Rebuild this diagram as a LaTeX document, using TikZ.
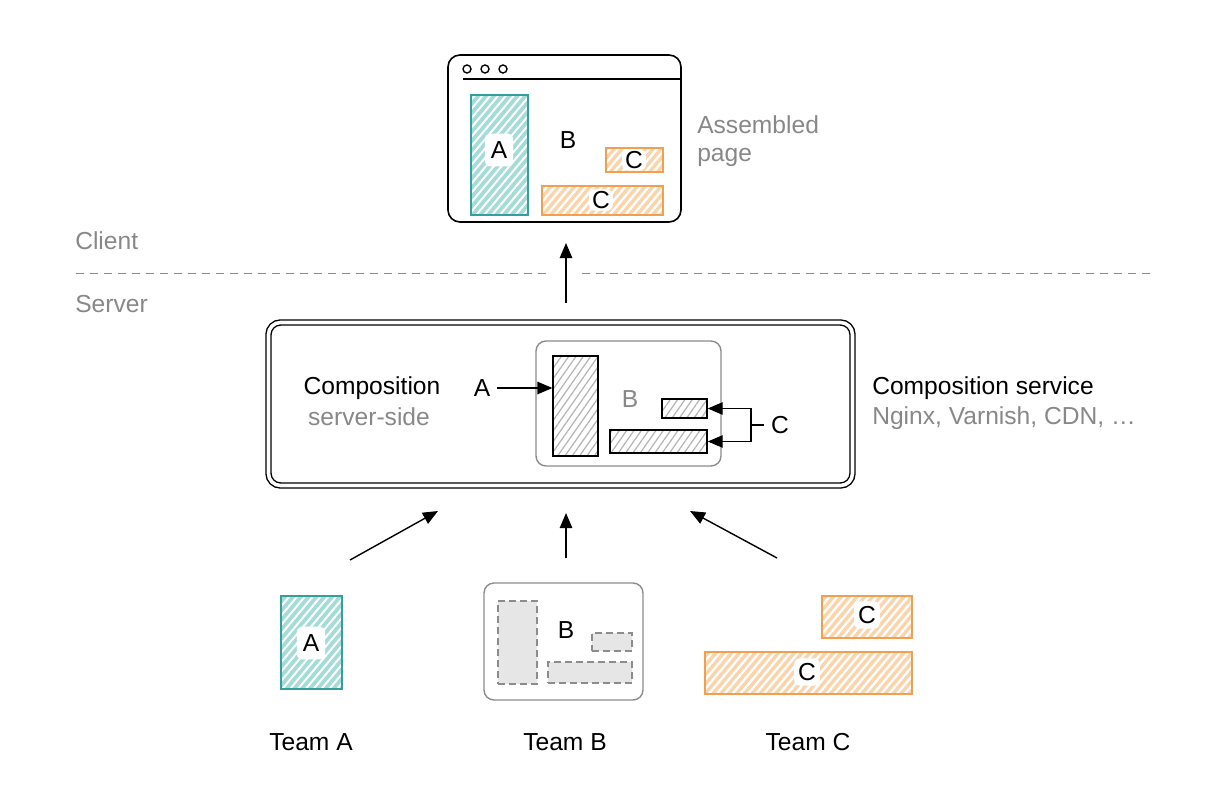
\documentclass[tikz,border=0pt]{standalone}
\usepackage{fontspec}
\setmainfont{Liberation Sans}
\usepackage{xcolor}
\usetikzlibrary{arrows.meta,patterns.meta}
\definecolor{tealline}{RGB}{52,160,155}
\definecolor{tealfill}{RGB}{165,220,216}
\definecolor{orline}{RGB}{240,160,80}
\definecolor{orfill}{RGB}{250,212,170}
\definecolor{greytext}{RGB}{136,136,136}
\definecolor{greyline}{RGB}{140,140,140}
\definecolor{hatchgrey}{RGB}{180,180,180}
\definecolor{dashfill}{RGB}{230,230,230}

\begin{document}
\begin{tikzpicture}[x=0.5pt, y=-0.5pt, font=\fontsize{12.3}{14}\selectfont,
  >={Triangle[length=7.5pt,width=6.2pt]}, line width=0.6pt,
  box/.style={draw, rectangle, inner sep=0pt, line width=0.7pt},
  tealbox/.style={box, draw=tealline, preaction={fill=tealfill}, pattern={Lines[angle=50,distance=3pt,line width=1pt]}, pattern color=white},
  orangebox/.style={box, draw=orline, preaction={fill=orfill}, pattern={Lines[angle=50,distance=3pt,line width=1.2pt]}, pattern color=white},
  greybox/.style={box, draw=black, preaction={fill=white}, pattern={Lines[angle=55,distance=3pt,line width=0.6pt]}, pattern color=hatchgrey},
  dashbox/.style={box, draw=greyline, dash pattern=on 3.5pt off 2pt, fill=dashfill},
  tag/.style={fill=white, rounded corners=3pt, inner xsep=3pt, inner ysep=4pt},
  grey text/.style={text=greytext},
  arr/.style={->, line width=0.7pt}]
\useasboundingbox (0,0) rectangle (1208,792);

\node[box, rounded corners=6pt, line width=0.8pt, minimum width=116.5pt, minimum height=83.5pt] (win) at (564.5,138.5) {};
\draw[line width=0.8pt] (463,79) -- (681,79);
\foreach \x in {467,485,503} \draw[line width=0.7pt] (\x,69) circle[radius=2pt];
\node[tealbox, minimum width=28.5pt, minimum height=60pt] (wa) at (499.5,155) {};
\node[tag] (wal) at (499,150) {A};
\node (wb) at (568,140) {B};
\node[orangebox, minimum width=28.5pt, minimum height=12pt] (wc1) at (634.5,160) {};
\node[tag, inner ysep=1pt, inner xsep=1.5pt] (wc1l) at (634,160) {C};
\node[orangebox, minimum width=60.5pt, minimum height=14.5pt] (wc2) at (602.5,200.5) {};
\node[tag, inner ysep=1pt, inner xsep=1.5pt] (wc2l) at (601,200) {C};
\node[grey text, align=left, anchor=west] (asm) at (690,141) {Assembled\\page};

\node[grey text, anchor=west] (cl) at (68,241) {Client};
\node[grey text, anchor=west] (sv) at (68,304) {Server};
\draw[greyline, line width=0.5pt, dash pattern=on 4pt off 3pt] (76,273) -- (548,273) (582,273) -- (1155,273);

\node[box, double, double distance=1.8pt, line width=0.7pt, rounded corners=6pt, minimum width=292pt, minimum height=81.5pt] (comp) at (560.5,404) {};
\node[box, draw=greyline, rounded corners=5pt, minimum width=92.5pt, minimum height=62.5pt] (inner) at (628.5,403.5) {};
\node[greybox, minimum width=22.5pt, minimum height=50pt] (pa) at (575.5,406) {};
\node[greybox, minimum width=22.5pt, minimum height=9.5pt] (pc1) at (684.5,408.5) {};
\node[greybox, minimum width=48.5pt, minimum height=11.5pt] (pc2) at (658.5,441.5) {};
\node[grey text] (pb) at (630,399) {B};
\node (la) at (482,388) {A};
\node (lc) at (780,425) {C};
\coordinate (cj) at (751,425);
\node (ctitle) at (372,388) {Composition};
\node[grey text] (csub) at (369,417) {server-side};
\node[anchor=west] (svc) at (865,388) {Composition service};
\node[grey text, anchor=west] (svcsub) at (865,418) {Nginx, Varnish, CDN, …};
\draw[arr] (la) -- (la -| pa.west);
\draw[line width=0.7pt] (lc) -- (cj);
\draw[arr] (cj) |- (pc1);
\draw[arr] (cj) |- (pc2);

\node[tealbox, minimum width=30.5pt, minimum height=46.5pt] (ta) at (311.5,642.5) {};
\node[tag] (tal) at (311,643) {A};
\node[box, draw=greyline, rounded corners=5pt, minimum width=79.5pt, minimum height=58.5pt] (tb) at (563.5,641.5) {};
\node[dashbox, minimum width=19.5pt, minimum height=41.5pt] (tb1) at (517.5,642.5) {};
\node[dashbox, minimum width=20pt, minimum height=9pt] (tb2) at (612,642) {};
\node[dashbox, minimum width=42pt, minimum height=10.5pt] (tb3) at (590,672.5) {};
\node (tbl) at (566,630) {B};
\node[orangebox, minimum width=45pt, minimum height=21pt] (tc1) at (867,617) {};
\node[tag, inner ysep=2.5pt, inner xsep=2pt] (tc1l) at (867,615) {C};
\node[orangebox, minimum width=103.5pt, minimum height=21pt] (tc2) at (808.5,673) {};
\node[tag, inner ysep=2.5pt, inner xsep=2pt] (tc2l) at (807,672) {C};
\node (na) at (311,742) {Team A};
\node (nb) at (565,742) {Team B};
\node (nc) at (808,742) {Team C};

\coordinate (s1) at (566,303);
\coordinate (s2) at (566,243);
\coordinate (a1) at (350,560);
\coordinate (a2) at (438,511);
\coordinate (b1) at (566,558);
\coordinate (b2) at (566,513);
\coordinate (c1) at (777,558);
\coordinate (c2) at (690,511);
\path[arr]
(s1) edge (s2)
(a1) edge (a2)
(b1) edge (b2)
(c1) edge (c2);
\end{tikzpicture}
\end{document}
